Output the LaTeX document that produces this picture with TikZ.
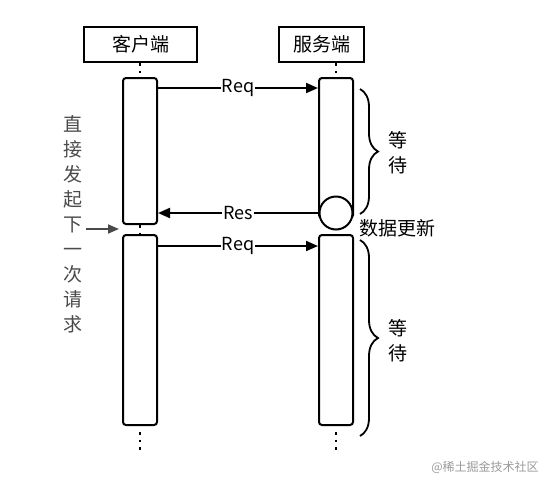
\documentclass[tikz,border=0pt]{standalone}
\usepackage{fontspec}
\setmainfont{Noto Sans CJK SC}
\usetikzlibrary{arrows.meta,decorations.pathreplacing}
\definecolor{sidegray}{HTML}{4A4A4A}
\definecolor{wmgray}{HTML}{9A9A9A}
\begin{document}
\begin{tikzpicture}[x=1pt,y=-1pt,
  head/.style={draw,line width=2pt,minimum width=#1,minimum height=35pt,inner sep=0pt,font=\fontsize{19}{22}\selectfont},
  actbox/.style={draw,line width=2pt,rounded corners=3pt,minimum width=34pt,minimum height=#1,inner sep=0pt},
  msg/.style={line width=2pt,-{Triangle[length=12pt,width=10pt]}},
  msglabel/.style={fill=white,inner sep=1pt,font=\fontsize{18}{20}\selectfont},
  life/.style={line width=2.2pt,dash pattern=on 2.5pt off 5pt},
  waitbrace/.style={line width=1.8pt,decorate,decoration={brace,amplitude=18pt}},
  cjk/.style={font=\fontsize{19}{25}\selectfont,align=center,inner sep=0pt}
]
\useasboundingbox (0,0) rectangle (546,488);
% headers
\node[head=113pt] (client) at (140.5,44.5) {客户端};
\node[head=85pt] (server) at (321.5,44.5) {服务端};
% activation boxes
\node[actbox=146pt] (c1) at (140,151) {};
\node[actbox=190pt] (c2) at (140,330) {};
\node[actbox=140pt] (s1) at (336,148) {};
\node[actbox=190pt] (s2) at (336,330) {};
\node[draw,circle,fill=white,line width=2pt,minimum size=33pt,inner sep=0pt] (upd) at (336,213) {};
% lifelines
\draw[life] (140,63) -- (c1.north);
\draw[life] (336,63) -- (s1.north);
\draw[life] (c1.south) -- (c2.north);
\draw[life] (c2.south) ++(0,6) -- ++(0,22);
\draw[life] (s2.south) ++(0,6) -- ++(0,22);
% messages
\coordinate (r1a) at (157,88);
\coordinate (r1b) at (319,88);
\draw[msg] (c1.east |- r1a) -- node[msglabel] {Req} (s1.west |- r1b);
\coordinate (resy) at (0,213);
\draw[msg] (upd.west |- resy) -- node[msglabel] {Res} (c1.east |- resy);
\coordinate (r2y) at (0,246);
\draw[msg] (c2.east |- r2y) -- node[msglabel] {Req} (s2.west |- r2y);
% braces
\coordinate (b1t) at (360,89);
\coordinate (b1b) at (360,214);
\draw[waitbrace] (b1t) -- (b1b);
\node[cjk] (w1) at (398,153) {等\\待};
\coordinate (b2t) at (360,240);
\coordinate (b2b) at (360,436);
\draw[waitbrace] (b2t) -- (b2b);
\node[cjk] (w2) at (398,341) {等\\待};
% update label
\node[font=\fontsize{19}{21}\selectfont,inner sep=0pt] (updlabel) at (397,228) {数据更新};
% side text
\node[cjk,text=sidegray] (side) at (73,224) {直\\接\\发\\起\\下\\一\\次\\请\\求};
\coordinate (sidearrow) at (86,229);
\draw[sidegray,line width=1.8pt,-{Triangle[length=11pt,width=9pt]}] (sidearrow) -- (119,229);
% watermark
\node[text=wmgray,font=\fontsize{12}{14}\selectfont,inner sep=0pt] (wm) at (485,467) {@稀土掘金技术社区};
\end{tikzpicture}
\end{document}
